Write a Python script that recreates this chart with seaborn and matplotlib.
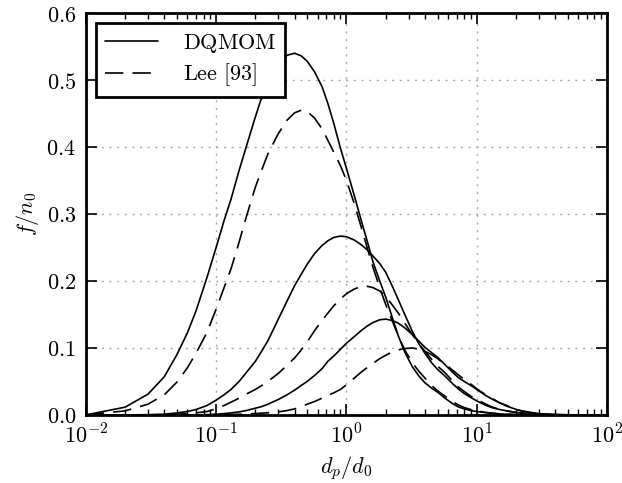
import numpy as np
import pandas as pd
import seaborn as sns
import matplotlib
matplotlib.use('Agg')
import matplotlib.pyplot as plt
from matplotlib.ticker import FuncFormatter, LogLocator, MultipleLocator

# d_p/d_0 grid
dp = [0.01, 0.02, 0.03, 0.04, 0.05, 0.06, 0.07, 0.085,
      0.1, 0.115, 0.13, 0.15, 0.17, 0.2, 0.22, 0.25,
      0.3, 0.35, 0.4, 0.45, 0.5, 0.57, 0.65, 0.72, 0.8, 0.9,
      1.0, 1.15, 1.3, 1.45, 1.6, 1.8, 2.0, 2.25, 2.5, 2.8,
      3.2, 3.6, 4.0, 4.5, 5.0, 5.7, 6.5, 7.2, 8.0, 9.0,
      10.0, 11.5, 13.0, 15.0, 17.0, 19.5, 22.0, 26.0, 30.0, 35.0, 40.0, 60.0, 100.0]

# DQMOM, three times
dq_1 = [0.0, 0.0115, 0.031, 0.057, 0.09, 0.122, 0.155, 0.205,
        0.25, 0.29, 0.322, 0.365, 0.40, 0.445, 0.47, 0.495,
        0.522, 0.537, 0.54, 0.536, 0.528, 0.512, 0.49, 0.465, 0.435, 0.398,
        0.368, 0.327, 0.29, 0.258, 0.228, 0.2, 0.176, 0.145, 0.118, 0.094,
        0.072, 0.058, 0.048, 0.04, 0.034, 0.025, 0.017, 0.012, 0.009, 0.0065,
        0.005, 0.0035, 0.0025, 0.0015, 0.001, 0.0005, 0.0, 0.0, 0.0, 0.0, 0.0, 0.0, 0.0]
dq_2 = [0.0, 0.0, 0.0003, 0.001, 0.003, 0.005, 0.008, 0.014,
        0.022, 0.03, 0.038, 0.05, 0.063, 0.08, 0.093, 0.111,
        0.143, 0.17, 0.193, 0.21, 0.225, 0.241, 0.253, 0.26, 0.265, 0.267,
        0.266, 0.261, 0.254, 0.246, 0.237, 0.226, 0.213, 0.192, 0.172, 0.15,
        0.125, 0.106, 0.092, 0.078, 0.068, 0.058, 0.047, 0.039, 0.032, 0.026,
        0.021, 0.015, 0.011, 0.008, 0.006, 0.004, 0.003, 0.0015, 0.001, 0.0005, 0.0, 0.0, 0.0]
dq_3 = [0.0, 0.0, 0.0, 0.0, 0.0, 0.0, 0.0, 0.0003,
        0.001, 0.002, 0.003, 0.0045, 0.0065, 0.01, 0.012, 0.016,
        0.023, 0.03, 0.037, 0.044, 0.05, 0.059, 0.069, 0.08, 0.088, 0.098,
        0.107, 0.117, 0.126, 0.133, 0.138, 0.142, 0.143, 0.141, 0.137, 0.13,
        0.12, 0.11, 0.101, 0.093, 0.086, 0.075, 0.064, 0.056, 0.05, 0.044,
        0.038, 0.03, 0.024, 0.018, 0.013, 0.009, 0.006, 0.0035, 0.002, 0.001, 0.0005, 0.0, 0.0]

# Lee [93], same times
lee_1 = [0.0, 0.006, 0.016, 0.03, 0.049, 0.07, 0.092, 0.123,
         0.158, 0.19, 0.218, 0.258, 0.295, 0.34, 0.362, 0.39,
         0.42, 0.44, 0.451, 0.455, 0.453, 0.443, 0.427, 0.41, 0.392, 0.372,
         0.35, 0.315, 0.28, 0.248, 0.22, 0.19, 0.165, 0.14, 0.118, 0.097,
         0.078, 0.065, 0.055, 0.044, 0.036, 0.028, 0.02, 0.015, 0.011, 0.008,
         0.006, 0.004, 0.0025, 0.0015, 0.001, 0.0005, 0.0, 0.0, 0.0, 0.0, 0.0, 0.0, 0.0]
lee_2 = [0.0, 0.0, 0.0, 0.0005, 0.001, 0.002, 0.003, 0.005,
         0.009, 0.014, 0.019, 0.025, 0.031, 0.038, 0.043, 0.05,
         0.062, 0.074, 0.085, 0.097, 0.109, 0.126, 0.141, 0.152, 0.163, 0.173,
         0.181, 0.188, 0.192, 0.192, 0.19, 0.185, 0.177, 0.164, 0.152, 0.137,
         0.12, 0.106, 0.095, 0.083, 0.073, 0.063, 0.051, 0.042, 0.035, 0.028,
         0.023, 0.017, 0.012, 0.008, 0.006, 0.004, 0.0025, 0.0015, 0.001, 0.0005, 0.0, 0.0, 0.0]
lee_3 = [0.0, 0.0, 0.0, 0.0, 0.0, 0.0, 0.0, 0.0,
         0.0002, 0.0004, 0.0006, 0.001, 0.0015, 0.002, 0.0025, 0.0032,
         0.0045, 0.0065, 0.009, 0.012, 0.016, 0.02, 0.025, 0.029, 0.033, 0.038,
         0.045, 0.055, 0.064, 0.071, 0.077, 0.084, 0.089, 0.094, 0.097, 0.099,
         0.1, 0.098, 0.095, 0.09, 0.084, 0.076, 0.067, 0.06, 0.053, 0.046,
         0.039, 0.031, 0.025, 0.018, 0.014, 0.009, 0.006, 0.0035, 0.002, 0.001, 0.0005, 0.0, 0.0]

rows = []
for name, case, vals in [('DQMOM', 1, dq_1), ('DQMOM', 2, dq_2), ('DQMOM', 3, dq_3),
                         ('Lee [93]', 1, lee_1), ('Lee [93]', 2, lee_2), ('Lee [93]', 3, lee_3)]:
    assert len(vals) == len(dp), (name, case, len(vals))
    for x, y in zip(dp, vals):
        rows.append({'dp': x, 'f': y, 'model': name, 'case': case})
df = pd.DataFrame(rows)

sns.set_style('ticks')
plt.rcParams['font.family'] = ['DejaVu Serif']
plt.rcParams['mathtext.fontset'] = 'cm'
plt.rcParams['font.size'] = 16
for k in ['axes.edgecolor', 'xtick.color', 'ytick.color', 'text.color', 'axes.labelcolor']:
    plt.rcParams[k] = 'black'

fig = plt.figure(figsize=(6.22, 4.83), dpi=100)
ax = fig.add_axes([0.138, 0.141, 0.838, 0.832])

styles = {'DQMOM': '', 'Lee [93]': (11, 5.5)}
for (name, case), g in df.groupby(['model', 'case'], sort=False):
    sns.lineplot(data=g, x='dp', y='f', ax=ax, color='black', linewidth=1.2,
                 estimator=None, sort=False,
                 label=('$\\mathrm{' + name.replace(' ', '\\ ') + '}$') if case == 1 else None)
    line = ax.lines[-1]
    if styles[name]:
        line.set_dashes(styles[name])

ax.set_xscale('log')
ax.set_xlim(1e-2, 1e2)
ax.set_ylim(0, 0.6)
ax.yaxis.set_major_locator(MultipleLocator(0.1))
ax.xaxis.set_major_locator(LogLocator(base=10))
ax.xaxis.set_minor_locator(LogLocator(base=10, subs=np.arange(2, 10)))
ax.xaxis.set_major_formatter(FuncFormatter(lambda v, p: '$10^{%d}$' % int(round(np.log10(v)))))
ax.yaxis.set_major_formatter(FuncFormatter(lambda v, p: '$%.1f$' % v))
ax.tick_params(which='both', direction='in', top=True, right=True, labelsize=16)
ax.tick_params(which='major', length=8, width=1.2, pad=7)
ax.tick_params(which='minor', length=4, width=1.0)
ax.grid(True, which='major', color='#a8a8a8', linestyle=(0, (1.5, 4)), linewidth=1.0)
for s in ax.spines.values():
    s.set_linewidth(2.0)

ax.set_xlabel('$d_p/d_0$', fontsize=16)
ax.set_ylabel('$f/n_0$', fontsize=16)

leg = ax.legend(loc='upper left', fontsize=16, handlelength=2.4, handletextpad=1.1,
                borderaxespad=0.45, fancybox=False, framealpha=1, edgecolor='black',
                borderpad=0.4, labelspacing=0.3)
leg.get_frame().set_linewidth(2.0)

fig.savefig('out.png', dpi=100)
